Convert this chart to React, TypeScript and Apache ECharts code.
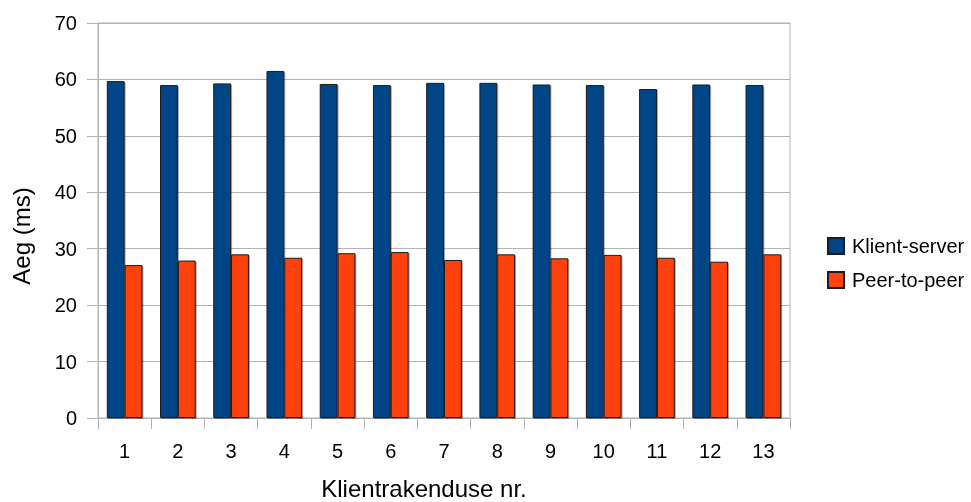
import React, { useEffect, useRef } from "react";
import * as echarts from "echarts";

// Response times per client application
const clients = ["1", "2", "3", "4", "5", "6", "7", "8", "9", "10", "11", "12", "13"];
const clientServer = [59.7, 59.0, 59.3, 61.5, 59.2, 59.0, 59.4, 59.4, 59.1, 59.0, 58.3, 59.1, 59.0];
const peerToPeer = [27.1, 27.9, 29.0, 28.4, 29.2, 29.4, 28.0, 29.0, 28.3, 28.9, 28.4, 27.7, 29.0];
const seriesNames = ["Klient-server", "Peer-to-peer"];
const yTitle = "Aeg (ms)";
const xTitle = "Klientrakenduse nr.";

const FONT = "'Liberation Sans', Arial, sans-serif";
const GRID_GRAY = "#b3b3b3";

export default function App() {
  const ref = useRef<HTMLDivElement>(null);

  useEffect(() => {
    if (!ref.current) return;
    const chart = echarts.init(ref.current, undefined, { renderer: "svg" });
    const barStyle = (color: string) => ({
      color,
      borderColor: "#1c1c1c",
      borderWidth: 1,
      shadowColor: "rgba(0,0,0,0.35)",
      shadowOffsetX: 1,
      shadowOffsetY: 1,
      shadowBlur: 1,
    });
    chart.setOption({
      animation: false,
      textStyle: { fontFamily: FONT },
      grid: {
        left: 98,
        right: 181,
        top: 23,
        bottom: 84,
        show: true,
        borderColor: GRID_GRAY,
        borderWidth: 1,
        containLabel: false,
      },
      legend: {
        orient: "vertical",
        left: 822,
        top: 231,
        itemWidth: 16,
        itemHeight: 16,
        itemGap: 14,
        icon: "rect",
        textStyle: {
          fontSize: 20,
          lineHeight: 20,
          color: "#000",
          fontFamily: FONT,
          padding: [0, 0, 0, 3],
        },
        data: seriesNames,
      },
      xAxis: {
        type: "category",
        data: clients,
        axisLine: { lineStyle: { color: GRID_GRAY } },
        axisTick: { show: true, length: 11, interval: 0, lineStyle: { color: GRID_GRAY } },
        axisLabel: { fontSize: 20, color: "#000", margin: 23, fontFamily: FONT },
      },
      yAxis: {
        type: "value",
        min: 0,
        max: 70,
        interval: 10,
        axisLine: { show: true, lineStyle: { color: GRID_GRAY } },
        axisTick: { show: true, length: 11, lineStyle: { color: GRID_GRAY } },
        splitLine: { lineStyle: { color: GRID_GRAY } },
        axisLabel: { fontSize: 20, color: "#000", margin: 21, fontFamily: FONT },
      },
      series: [
        {
          name: seriesNames[0],
          type: "bar",
          data: clientServer,
          barGap: "0%",
          barCategoryGap: "33%",
          itemStyle: barStyle("#004586"),
        },
        {
          name: seriesNames[1],
          type: "bar",
          data: peerToPeer,
          barGap: "0%",
          barCategoryGap: "33%",
          itemStyle: barStyle("#ff420e"),
        },
      ],
      graphic: [
        {
          type: "text",
          x: 21,
          y: 236,
          rotation: Math.PI / 2,
          style: {
            text: yTitle,
            fontSize: 24,
            fontFamily: FONT,
            fill: "#000",
            align: "center",
            verticalAlign: "middle",
          },
        },
        {
          type: "text",
          x: 424,
          y: 488,
          style: {
            text: xTitle,
            fontSize: 24,
            fontFamily: FONT,
            fill: "#000",
            align: "center",
            verticalAlign: "middle",
          },
        },
      ],
    });
    return () => chart.dispose();
  }, []);

  return <div ref={ref} style={{ width: 971, height: 502, position: "fixed", left: 0, top: 0 }} />;
}
